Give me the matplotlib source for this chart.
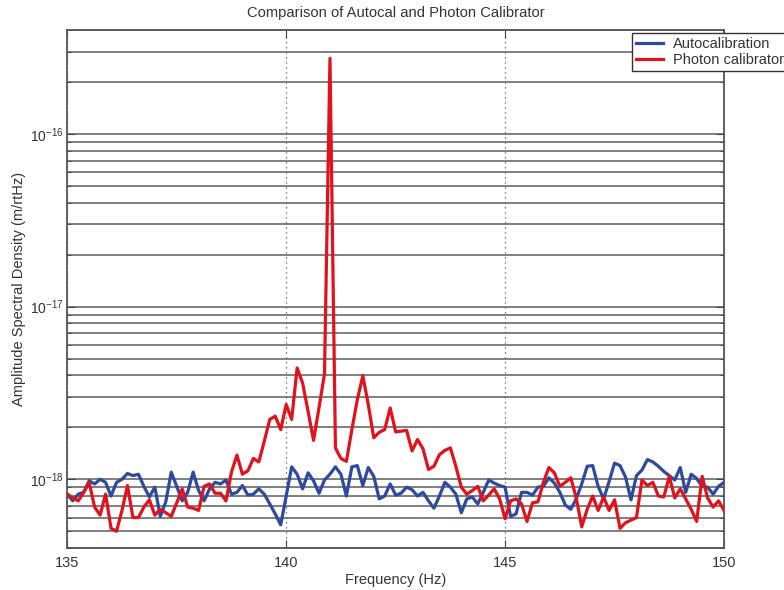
import numpy as np
import matplotlib
matplotlib.use("Agg")
import matplotlib.pyplot as plt
from matplotlib.ticker import LogLocator, NullFormatter, FixedLocator

plt.rcParams['font.family'] = ['Liberation Sans', 'DejaVu Sans']
plt.rcParams['mathtext.default'] = 'regular'

# frequency axis, 0.125 Hz bins from 135 to 150 Hz
freq_start = 135.0
freq_step = 0.125

# amplitude spectral density, in units of 1e-18 m/rtHz
autocal = [0.82, 0.75, 0.82, 0.84, 0.98, 0.94, 1.00, 0.96, 0.80, 0.96,
           1.00, 1.08, 1.05, 1.07, 0.91, 0.79, 0.90, 0.61, 0.74, 1.10,
           0.91, 0.75, 0.84, 1.10, 0.86, 0.75, 0.88, 0.96, 0.94, 0.99,
           0.82, 0.84, 0.92, 0.81, 0.82, 0.88, 0.82, 0.72, 0.63, 0.545,
           0.80, 1.18, 1.07, 0.88, 1.09, 0.98, 0.83, 0.99, 1.07, 1.18,
           1.07, 0.80, 1.18, 1.20, 0.92, 1.17, 1.04, 0.77, 0.80, 0.94,
           0.81, 0.83, 0.90, 0.87, 0.80, 0.84, 0.75, 0.68, 0.80, 0.96,
           0.90, 0.82, 0.64, 0.77, 0.79, 0.72, 0.84, 0.99, 0.95, 0.92,
           0.90, 0.61, 0.63, 0.84, 0.84, 0.81, 0.90, 0.91, 1.02, 0.95,
           0.84, 0.71, 0.67, 0.77, 0.94, 1.19, 1.20, 0.91, 0.77, 0.97,
           1.24, 1.20, 1.03, 0.76, 1.05, 1.13, 1.30, 1.26, 1.19, 1.11,
           1.05, 0.99, 1.17, 0.84, 1.07, 1.01, 0.91, 0.90, 0.82, 0.91,
           0.96]

photon_cal = [0.82, 0.78, 0.75, 0.84, 0.96, 0.69, 0.62, 0.82, 0.52, 0.50,
              0.66, 0.92, 0.60, 0.60, 0.69, 0.76, 0.62, 0.67, 0.64, 0.61,
              0.73, 0.88, 0.69, 0.68, 0.66, 0.91, 0.94, 0.83, 0.83, 0.75,
              1.10, 1.38, 1.07, 1.12, 1.32, 1.26, 1.66, 2.22, 2.32, 1.94,
              2.71, 2.22, 4.41, 3.61, 2.47, 1.68, 2.60, 4.08, 274.0, 1.52,
              1.32, 1.27, 1.94, 2.89, 3.98, 2.71, 1.74, 1.87, 1.94, 2.59,
              1.88, 1.90, 1.92, 1.46, 1.70, 1.50, 1.14, 1.19, 1.39, 1.47,
              1.52, 1.19, 0.90, 0.82, 0.86, 0.91, 0.75, 0.81, 0.88, 0.77,
              0.59, 0.75, 0.77, 0.72, 0.57, 0.73, 0.74, 0.96, 1.17, 1.09,
              0.91, 0.96, 1.02, 0.78, 0.53, 0.67, 0.80, 0.66, 0.79, 0.66,
              0.76, 0.52, 0.56, 0.58, 0.60, 0.99, 0.92, 0.96, 0.80, 0.79,
              1.04, 0.78, 0.88, 0.77, 0.67, 0.57, 1.04, 0.78, 0.69, 0.75,
              0.66]

xticks = [135, 140, 145, 150]
ydecades = [1e-18, 1e-17, 1e-16]

f = freq_start + freq_step * np.arange(len(autocal))
auto = np.array(autocal) * 1e-18
phot = np.array(photon_cal) * 1e-18

fig = plt.figure(figsize=(7.84, 5.90), dpi=100)
ax = fig.add_axes([0.0858, 0.0712, 0.8377, 0.878])

ax.plot(f, auto, color='#2d4a9e', lw=2.3, label='Autocalibration', zorder=3)
ax.plot(f, phot, color='#e2121c', lw=2.3, label='Photon calibrator', zorder=4)

ax.set_yscale('log')
ax.set_xlim(135, 150)
ax.set_ylim(4e-19, 4e-16)

ax.xaxis.set_major_locator(FixedLocator(xticks))
ax.yaxis.set_major_locator(FixedLocator(ydecades))
ax.yaxis.set_minor_locator(LogLocator(base=10, subs=np.arange(2, 10)))
ax.yaxis.set_minor_formatter(NullFormatter())

# solid horizontal grid at every decade subdivision, dotted vertical grid
ax.yaxis.grid(True, which='both', color='#6a6a6a', lw=1.2, ls='-')
ax.xaxis.grid(True, which='major', color='#555555', lw=0.9, ls=(0, (1, 3)))
ax.set_axisbelow(True)

ax.tick_params(which='both', direction='in', top=True, right=True,
               colors='#444444', labelcolor='#333333')
ax.tick_params(axis='x', pad=6, length=6, labelsize=10.5)
ax.tick_params(axis='y', which='major', length=6, pad=2.5, labelsize=10)
ax.tick_params(axis='y', which='minor', length=3)
for sp in ax.spines.values():
    sp.set_color('#555555')
    sp.set_linewidth(1.3)

ax.set_title('Comparison of Autocal and Photon Calibrator', fontsize=10.6,
             color='#333333', pad=9)
ax.set_xlabel('Frequency (Hz)', fontsize=10.5, color='#333333', labelpad=2)
ax.set_ylabel('Amplitude Spectral Density (m/rtHz)', fontsize=10.5,
              color='#333333', labelpad=3)

leg = fig.legend(loc='upper left', bbox_to_anchor=(632 / 784, 1 - 33 / 590),
                 fontsize=10.5, frameon=True, fancybox=False, framealpha=1,
                 edgecolor='#333333', handlelength=1.8, handletextpad=0.7,
                 borderpad=0.3, labelspacing=0.1, borderaxespad=0)
leg.get_frame().set_linewidth(1.0)
for t in leg.get_texts():
    t.set_color('#333333')

fig.savefig('out.png', dpi=100)
